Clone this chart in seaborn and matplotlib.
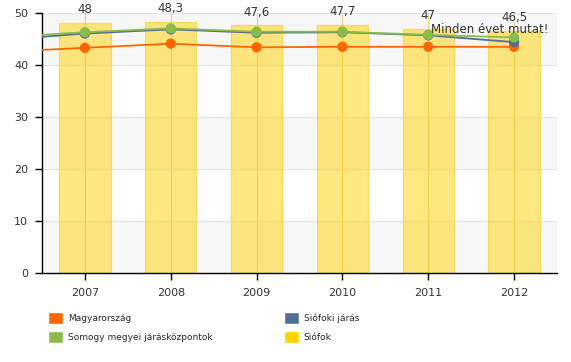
import pandas as pd
import matplotlib.pyplot as plt
import seaborn as sns
from matplotlib.patches import Patch

# data (2006 only sets where the lines enter at the left edge)
years = [2006, 2007, 2008, 2009, 2010, 2011, 2012]
magyarorszag = [42.5, 43.3, 44.1, 43.4, 43.5, 43.5, 43.5]
somogy = [45.3, 46.3, 47.05, 46.4, 46.4, 45.8, 45.3]
siofoki_jaras = [44.8, 46.05, 46.85, 46.2, 46.3, 45.7, 44.4]
bar_years = [2007, 2008, 2009, 2010, 2011, 2012]
siofok = [48, 48.3, 47.6, 47.7, 47, 46.5]
bar_labels = ['48', '48,3', '47,6', '47,7', '47', '46,5']

c_hu = '#ff6600'
c_somogy = '#8bbc4a'
c_jaras = '#4f6f96'
c_siofok = '#ffd200'

lines = pd.DataFrame({'year': years, 'Magyarország': magyarorszag,
                      'Somogy megyei járásközpontok': somogy,
                      'Siófoki járás': siofoki_jaras})
bars = pd.DataFrame({'year': bar_years, 'Siófok': siofok})

sns.set_style('white')
plt.rcParams['font.family'] = ['DejaVu Sans']

fig = plt.figure(figsize=(5.71, 3.62), dpi=100)
ax = fig.add_axes([42 / 571, 1 - 273 / 362, 515 / 571, 260 / 362])

# alternating bands and grid
for lo in (0, 20, 40):
    ax.axhspan(lo, lo + 10, color='#f7f7f7', zorder=0, lw=0)
for y in range(10, 60, 10):
    ax.axhline(y, color='#e4e4e4', lw=0.8, zorder=0.5)
for x in bar_years:
    ax.axvline(x, color='#e6d28a', lw=0.8, zorder=0.5)

sns.barplot(data=bars, x='year', y='Siófok', native_scale=True, width=0.6,
            color=c_siofok, alpha=0.5, edgecolor='#f2c600', linewidth=0.9,
            saturation=1, ax=ax, zorder=1)

for col, c in [('Magyarország', c_hu), ('Siófoki járás', c_jaras),
               ('Somogy megyei járásközpontok', c_somogy)]:
    sns.lineplot(data=lines, x='year', y=col, color=c, lw=1.3, ax=ax, zorder=3)
    sub = lines[lines['year'] >= 2007]
    sns.scatterplot(data=sub, x='year', y=col, color=c, s=55, edgecolor='none',
                    ax=ax, zorder=4, clip_on=False)

for x, v, t in zip(bar_years, siofok, bar_labels):
    ax.annotate(t, (x, v), xytext=(0, 5), textcoords='offset points',
                ha='center', va='bottom', fontsize=8.5, color='#333333')

ax.text(2012.4, 46.9, 'Minden évet mutat!', ha='right', va='center',
        fontsize=8.5, color='#333333', zorder=5)

ax.set_xlim(2006.5, 2012.5)
ax.set_ylim(0, 50)
ax.set_xticks(bar_years)
ax.set_xticklabels([str(y) for y in bar_years])
ax.set_yticks(range(0, 60, 10))
ax.set_xlabel('')
ax.set_ylabel('')
for s in ('top', 'right'):
    ax.spines[s].set_visible(False)
for s in ('left', 'bottom'):
    ax.spines[s].set_color('black')
    ax.spines[s].set_linewidth(1.0)
ax.tick_params(axis='both', direction='out', length=5, width=1, color='black',
               labelsize=8, labelcolor='#333333', left=True, bottom=True)
ax.tick_params(axis='x', pad=6)
ax.tick_params(axis='y', pad=5)

handles = [Patch(facecolor=c_hu, label='Magyarország'),
           Patch(facecolor=c_somogy, label='Somogy megyei járásközpontok'),
           Patch(facecolor=c_jaras, label='Siófoki járás'),
           Patch(facecolor=c_siofok, label='Siófok')]
fig.legend(handles=handles, loc='upper left', bbox_to_anchor=(48 / 571, 1 - 312 / 362),
           ncol=2, frameon=False, fontsize=6.5, handlelength=1.65, handleheight=1.65,
           handletextpad=0.55, labelspacing=0.75, columnspacing=7.9,
           borderpad=0, borderaxespad=0)

fig.savefig('out.png', dpi=100)
